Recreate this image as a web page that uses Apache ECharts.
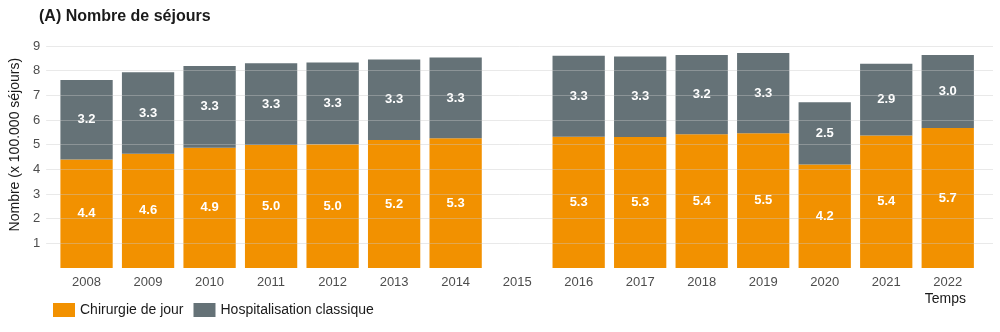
<!DOCTYPE html>
<html>
<head>
<meta charset="utf-8">
<script src="https://cdn.jsdelivr.net/npm/echarts@6/dist/echarts.min.js"></script>
<style>html,body{margin:0;padding:0;background:#fff;}#c{width:1000px;height:332px;}</style>
</head>
<body>
<div id="c"></div>
<script>
const years = ['2008','2009','2010','2011','2012','2013','2014','2015','2016','2017','2018','2019','2020','2021','2022'];
const chirurgieJour = [4.40,4.63,4.88,4.99,5.02,5.19,5.26,null,5.32,5.31,5.42,5.46,4.20,5.37,5.68];
const hospitClassique = [3.22,3.31,3.31,3.31,3.31,3.26,3.27,null,3.28,3.26,3.22,3.26,2.52,2.91,2.96];
const yTicks = [1,2,3,4,5,6,7,8,9];

const FONT = 'Liberation Sans, Arial, sans-serif';
const ORANGE = '#F29100';
const GREY = '#657277';

const chart = echarts.init(document.getElementById('c'), null, {renderer:'canvas'});
const labelStyle = {show:true, position:'inside', color:'#fff', fontWeight:'bold', fontSize:13, fontFamily:FONT,
  formatter: p => p.value == null ? '' : p.value.toFixed(1)};

chart.setOption({
  animation:false,
  backgroundColor:'#fff',
  title:{text:'(A) Nombre de séjours', left:34, top:4,
    textStyle:{fontFamily:FONT, fontWeight:'bold', fontSize:16, color:'#1a1a1a'}},
  legend:{left:48, top:298, itemWidth:22, itemHeight:14, itemGap:10, icon:'rect',
    textStyle:{fontFamily:FONT, fontSize:14, color:'#1a1a1a'},
    data:['Chirurgie de jour','Hospitalisation classique']},
  grid:[
    {left:55.8, right:21.5, top:46, bottom:64},
    {left:40, right:7, top:46, bottom:88.7}
  ],
  xAxis:[
    {type:'category', gridIndex:0, data:years, boundaryGap:true,
      axisLine:{show:false}, axisTick:{show:false},
      axisLabel:{interval:0, margin:8, fontFamily:FONT, fontSize:13, color:'#4d4d4d'}},
    {type:'value', gridIndex:1, show:false, min:0, max:1}
  ],
  yAxis:[
    {type:'value', gridIndex:0, min:0, max:9, show:false, splitLine:{show:false}},
    {type:'value', gridIndex:1, min:1, max:9, interval:1, z:5,
      name:'Nombre (x 100.000 séjours)', nameLocation:'middle', nameGap:22, nameRotate:90,
      nameTextStyle:{fontFamily:FONT, fontSize:14, color:'#1a1a1a'},
      axisLine:{show:false}, axisTick:{show:false},
      axisLabel:{margin:6, fontFamily:FONT, fontSize:13, color:'#4d4d4d',
        formatter: v => yTicks.includes(v) ? String(v) : ''},
      splitLine:{show:true, lineStyle:{color:'rgba(200,200,200,0.4)', width:1}}}
  ],
  series:[
    {name:'Chirurgie de jour', type:'bar', stack:'a', xAxisIndex:0, yAxisIndex:0,
      barWidth:'85%', data:chirurgieJour, itemStyle:{color:ORANGE}, label:labelStyle, z:2},
    {name:'Hospitalisation classique', type:'bar', stack:'a', xAxisIndex:0, yAxisIndex:0,
      barWidth:'85%', data:hospitClassique, itemStyle:{color:GREY}, label:labelStyle, z:2}
  ],
  graphic:[
    {type:'text', right:34, top:292, style:{text:'Temps', fontFamily:FONT, fontSize:14, fill:'#1a1a1a'}}
  ]
});
</script>
</body>
</html>
